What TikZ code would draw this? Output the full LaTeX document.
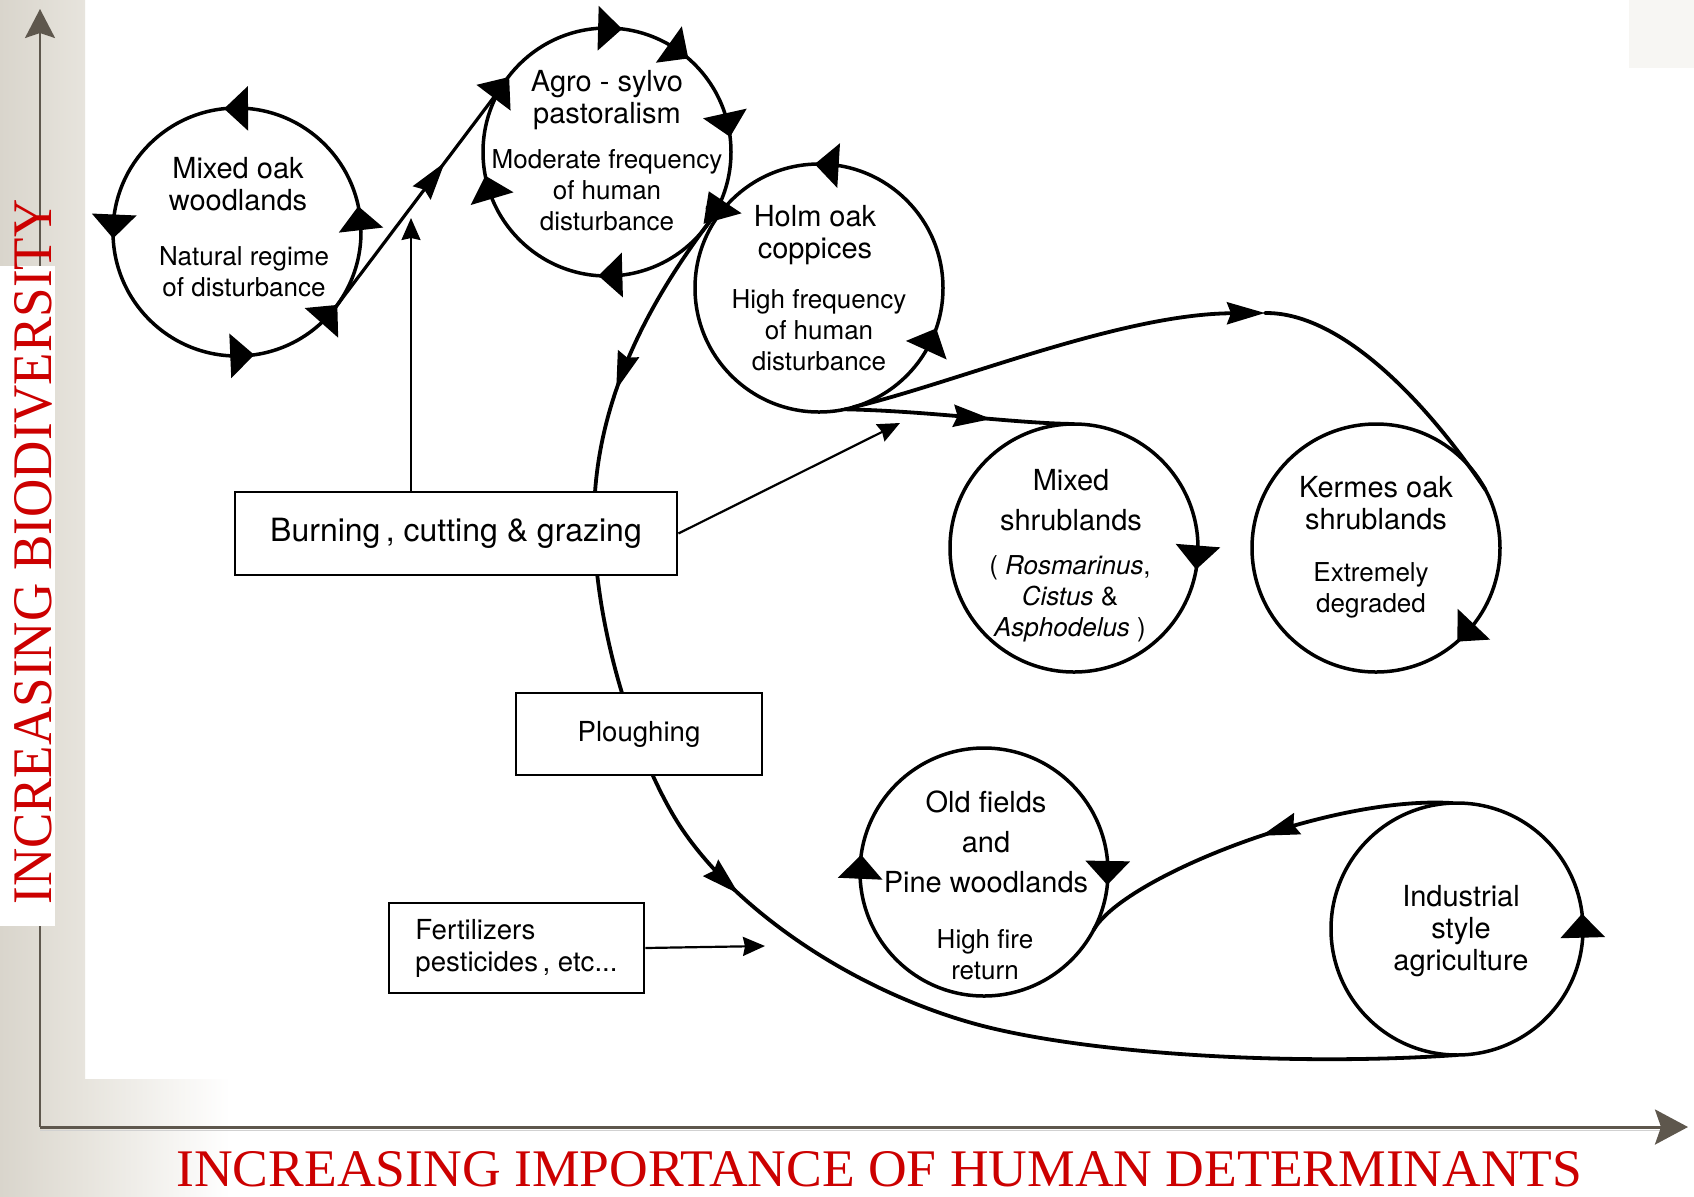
\documentclass[tikz,border=0pt]{standalone}
\usepackage{fontspec}
\setmainfont{TeX Gyre Heros}
\newfontfamily\axisfont{Liberation Serif}
\usetikzlibrary{arrows.meta,decorations.markings,calc}
\definecolor{axisred}{HTML}{CC0000}
\definecolor{axisgray}{HTML}{5E574D}
\definecolor{stripdark}{HTML}{D9D5CC}
\definecolor{striplight}{HTML}{E7E4DD}
\definecolor{cornergray}{HTML}{F7F6F3}

\tikzset{
  habitat/.style={circle, draw, line width=1.75pt, minimum size=124pt, inner sep=0pt, outer sep=0pt},
  ttl/.style={align=center, inner sep=0pt, font=\fontsize{14.5}{16}\selectfont},
  subtxt/.style={align=center, inner sep=0pt, font=\fontsize{13}{15.5}\selectfont},
  actbox/.style={draw, line width=1.4pt, fill=white, inner sep=0pt},
  ctip/.style={line width=1.75pt, -{Triangle[length=12pt,width=22pt]}},
  jtip/.style={line width=1.75pt, -{Triangle[length=18pt,width=16pt]}},
  flowline/.style={line width=1.9pt, line cap=round},
  flowtip/.style={-{Stealth[length=19pt,width=11pt,inset=2pt]}},
  midtip/.style={postaction={decorate}, decoration={markings, mark=at position #1 with {\arrow{Stealth[length=19pt,width=11pt,inset=2pt]}}}},
  thinarrow/.style={line width=1.1pt, -{Stealth[length=11pt,width=9.5pt,inset=1pt]}},
}

\begin{document}
\begin{tikzpicture}[x=0.5pt,y=-0.5pt]
\useasboundingbox (0,0) rectangle (1694,1196);

% backdrop
\fill[white] (0,0) rectangle (1694,1196);
\shade[left color=stripdark, right color=striplight] (0,0) rectangle (85,1196);
\shade[left color=striplight, right color=white] (85,1079) rectangle (230,1196);
\fill[cornergray] (1629,0) rectangle (1694,68);

% axes
\coordinate (origin) at (40,1127);
\coordinate (ytop) at (40,9);
\coordinate (xend) at (1688,1127);
\draw[axisgray, line width=1pt, -{Stealth[length=14.5pt,width=15pt,inset=2.5pt]}] (origin) -- (ytop);
\draw[black!18, line width=0.9pt] (40,1130.5) -- (1660,1130.5);
\draw[axisgray, line width=1.5pt, -{Stealth[length=16.5pt,width=17.5pt,inset=3pt]}] (origin) -- (xend);
\fill[white] (0,266) rectangle (55,926);
\node[inner sep=0pt, anchor=base west, rotate=90] (ylabel) at (52,905)
  {\resizebox{352.5pt}{18.5pt}{\axisfont\color{axisred}INCREASING BIODIVERSITY}};
\node[inner sep=0pt, anchor=base west] (xlabel) at (176,1186)
  {\resizebox{703pt}{17.5pt}{\axisfont\color{axisred}INCREASING IMPORTANCE OF HUMAN DETERMINANTS}};

% habitat cycles
\node[habitat] (mo)  at (237,232)  {};
\node[habitat] (ag)  at (607,152)  {};
\node[habitat] (ho)  at (819,288)  {};
\node[habitat] (ms)  at (1074,548) {};
\node[habitat] (ke)  at (1376,548) {};
\node[habitat] (of)  at (984,872)  {};
\node[habitat, minimum size=126pt] (ind) at (1457,929) {};

\node[ttl]    (mo-t) at (238,184) {Mixed oak\\woodlands};
\node[subtxt] (mo-s) at (244,272) {Natural regime\\of disturbance};
\node[ttl]    (ag-t) at (607,100) {Agro - sylvo\\pastoralism};
\node[subtxt] (ag-s) at (607,190) {Moderate frequency\\of human\\disturbance};
\node[ttl]    (ho-t) at (815,235) {Holm oak\\coppices};
\node[subtxt] (ho-s) at (819,330) {High frequency\\of human\\disturbance};
\node[ttl]    (ms-t) at (1071,500) {Mixed\\[4pt]shrublands};
\node[subtxt] (ms-s) at (1070,599) {( \textit{Rosmarinus},\\\textit{Cistus} \&\\\textit{Asphodelus} )};
\node[ttl]    (ke-t) at (1376,503) {Kermes oak\\shrublands};
\node[subtxt] (ke-s) at (1371,590) {Extremely\\degraded};
\node[ttl]    (of-t) at (986,842) {Old fields\\[4pt]and\\[4pt]Pine woodlands};
\node[subtxt] (of-s) at (985,955) {High fire\\return};
\node[ttl]    (ind-t) at (1461,931) {Industrial\\style\\agriculture};

% arrowheads running round each cycle
\foreach \a in {85,172,267,1,313} \draw[ctip] (mo.\a) -- (mo.{\a+11});
\foreach \a in {94.6,60,18,277,202.5} \draw[ctip] (ag.\a) -- (ag.{\a-11});
\foreach \a in {81,330.5} \draw[ctip] (ho.\a) -- (ho.{\a+11});
\draw[ctip] (ms.1) -- (ms.-10);
\draw[ctip] (ke.-38) -- (ke.-49);
\foreach \a in {183.8,4.6} \draw[ctip] (of.\a) -- (of.{\a-11});
\draw[ctip] (ind.-4) -- (ind.7);

% pathways between cycles
\draw[line width=1.6pt, midtip=0.66, -{Triangle[length=13pt,width=21pt]}, shorten >=-7pt] (mo.-37) -- (ag.149);

\coordinate (j1) at (713,217);
\draw[jtip] ($(j1)+(-7.2,-9.5)$) -- ($(j1)+(28.7,-3.7)$);

\coordinate (w1) at (594,520);
\coordinate (w2) at (672,813);
\coordinate (w3) at (987,1027);
\draw[flowline, midtip=0.6] (j1) .. controls (650,300) and (594,400) .. (w1);
\draw[flowline] (w1) .. controls (594,620) and (630,740) .. (w2);
\draw[flowline, midtip=0.27] (w2) .. controls (725,905) and (855,994) .. (w3);
\draw[flowline] (w3) .. controls (1100,1055) and (1300,1066) .. (ind.-90);

\draw[flowline, midtip=0.64] (ho.-78) .. controls (930,411) and (1010,423) .. (ms.90);

\coordinate (k1) at (1265,313);
\draw[flowline, flowtip] (ho.-74) .. controls (955,383) and (1120,314) .. (k1);
\draw[flowline] (k1) .. controls (1345,312) and (1432,410) .. (ke.28);

\draw[flowline, midtip=0.5] (ind.92) .. controls (1330,795) and (1122,878) .. (of.-28);

% disturbance drivers
\node[actbox, minimum width=221pt, minimum height=41.5pt, font=\fontsize{16}{18}\selectfont] (burn) at (456,533.5) {Burning\,, cutting \& grazing};
\node[actbox, minimum width=123pt, minimum height=41pt, font=\fontsize{13.8}{16}\selectfont] (plough) at (639,734) {Ploughing};
\node[actbox, minimum width=127.5pt, minimum height=45pt, align=left, font=\fontsize{13.8}{16}\selectfont] (fert) at (516.5,948) {Fertilizers\\pesticides\,, etc...};

\coordinate (vtip) at (411,218);
\draw[thinarrow] (burn.north -| vtip) -- (vtip);
\coordinate (btip) at (900,423);
\draw[thinarrow] (burn.east) -- (btip);
\coordinate (fertip) at (765,946);
\draw[thinarrow] (fert.east) -- (fertip);
\end{tikzpicture}
\end{document}
